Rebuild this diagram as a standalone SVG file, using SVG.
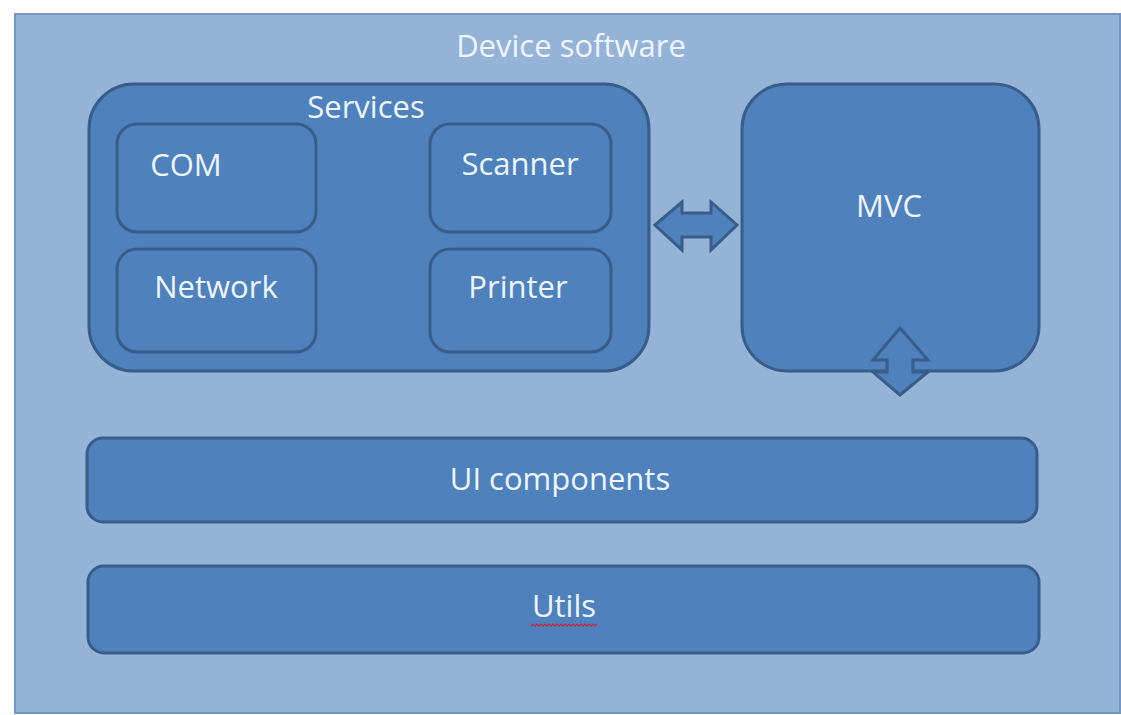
<svg xmlns="http://www.w3.org/2000/svg" width="1121" height="715" viewBox="0 0 1121 715">
  <style>
    .frame { fill: #95b3d7; stroke: #7396c6; stroke-width: 2; }
    .box { fill: #4f81bd; stroke: #385d8a; stroke-width: 3; }
    .arrow { fill: #4f81bd; stroke: #385d8a; stroke-width: 3; stroke-linejoin: miter; }
    .label { font-family: "Open Sans", "Liberation Sans", sans-serif; font-size: 31px; fill: #eef5ff; text-anchor: middle; }
    .squiggle { fill: none; stroke: #d0243c; stroke-width: 1.2; }
  </style>
  <rect width="1121" height="715" fill="#ffffff"/>

  <!-- outer container -->
  <g id="device-software">
    <rect class="frame" x="15" y="14" width="1105" height="699"/>
    <text class="label" x="571" y="57">Device software</text>
  </g>

  <!-- services group with its four modules -->
  <g id="services">
    <rect class="box" x="89" y="84" width="560" height="287" rx="45" ry="45"/>
    <text class="label" x="366" y="118">Services</text>
  </g>
  <g id="com">
    <rect class="box" x="117" y="124" width="199" height="108" rx="20" ry="20"/>
    <text class="label" x="186" y="176">COM</text>
  </g>
  <g id="scanner">
    <rect class="box" x="430" y="124" width="181" height="108" rx="20" ry="20"/>
    <text class="label" x="520" y="175">Scanner</text>
  </g>
  <g id="network">
    <rect class="box" x="117" y="249" width="199" height="103" rx="20" ry="20"/>
    <text class="label" x="216" y="298">Network</text>
  </g>
  <g id="printer">
    <rect class="box" x="430" y="249" width="181" height="103" rx="20" ry="20"/>
    <text class="label" x="518" y="298">Printer</text>
  </g>

  <!-- MVC block -->
  <g id="mvc">
    <rect class="box" x="742" y="84" width="297" height="287" rx="45" ry="45"/>
    <text class="label" x="889" y="217">MVC</text>
  </g>

  <!-- UI components bar -->
  <g id="ui-components">
    <rect class="box" x="87" y="438" width="950" height="84" rx="16" ry="16"/>
    <text class="label" x="560" y="490">UI components</text>
  </g>

  <!-- utils bar -->
  <g id="utils">
    <rect class="box" x="88" y="566" width="951" height="87" rx="16" ry="16"/>
    <text class="label" x="564" y="617">Utils</text>
    <path class="squiggle" d="M531 626 l2 -2 l2 2 l2 -2 l2 2 l2 -2 l2 2 l2 -2 l2 2 l2 -2 l2 2 l2 -2 l2 2 l2 -2 l2 2 l2 -2 l2 2 l2 -2 l2 2 l2 -2 l2 2 l2 -2 l2 2 l2 -2 l2 2 l2 -2 l2 2 l2 -2 l2 2 l2 -2 l2 2 l2 -2 l2 2 l2 -2"/>
  </g>

  <!-- connectors: block arrows -->
  <g id="connectors">
    <polygon class="arrow" points="655,225 682,202 682,213 711,213 711,202 737,225 711,250 711,237 682,237 682,250"/>
    <polygon class="arrow" points="900,328 928,360 913,360 913,372 928,372 900,395 873,372 887,372 887,360 873,360"/>
  </g>
</svg>
